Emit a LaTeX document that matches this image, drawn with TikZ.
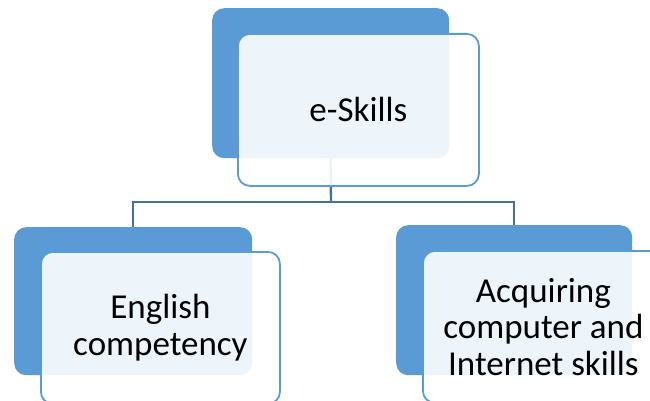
\documentclass[tikz,border=0pt]{standalone}
\usepackage{fontspec}
\setmainfont{Carlito}
\definecolor{backblue}{HTML}{5B9BD5}
\definecolor{edgeblue}{HTML}{5B9BD5}
\definecolor{connblue}{HTML}{41719C}
\tikzset{
  backbox/.style={draw=none, fill=backblue, rounded corners=12pt, anchor=north west, inner sep=0pt},
  frontbox/.style={draw=edgeblue, line width=1.8pt, fill=white, fill opacity=0.9, text opacity=1,
    rounded corners=12pt, anchor=north west, inner sep=0pt, align=center,
    font=\fontsize{35}{36.5}\selectfont},
  conn/.style={draw=connblue, line width=2.4pt}
}
\begin{document}
\begin{tikzpicture}[x=1pt,y=-1pt]
\useasboundingbox (0,0) rectangle (650,401);
\clip (0,0) rectangle (650,401);
% back boxes
\node[backbox, minimum width=237pt, minimum height=150pt] (tb) at (212,8) {};
\node[backbox, minimum width=238pt, minimum height=148pt] (lb) at (14,227) {};
\node[backbox, minimum width=236pt, minimum height=150pt] (rb) at (396,225) {};
% connectors
\coordinate (j) at (331,202);
\draw[conn] (tb.south) -- (j);
\draw[conn] (j) -| (lb.north);
\draw[conn] (j) -| (rb.north);
% front boxes
\node[frontbox, minimum width=241pt, minimum height=152pt] (tf) at (237,33) {e-Skills};
\node[frontbox, minimum width=239pt, minimum height=152pt] (lf) at (40,251) {English\\competency};
\node[frontbox, minimum width=241pt, minimum height=152pt] (rf) at (422,250) {Acquiring\\computer and\\Internet skills};
\end{tikzpicture}
\end{document}
